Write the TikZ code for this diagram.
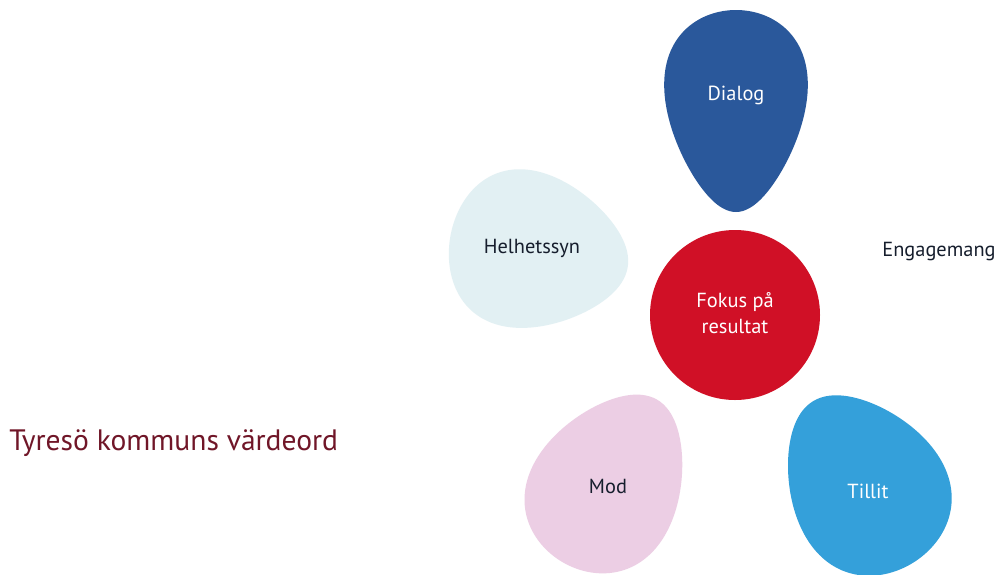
\documentclass[tikz,border=0pt]{standalone}
\usepackage{fontspec}
\setmainfont{PT Sans}
\definecolor{dialogblue}{RGB}{42,88,155}
\definecolor{helhetcyan}{RGB}{226,240,243}
\definecolor{fokusred}{RGB}{208,16,38}
\definecolor{modpink}{RGB}{236,206,228}
\definecolor{tillitblue}{RGB}{52,160,218}
\definecolor{titlered}{RGB}{112,22,40}
\definecolor{darktext}{RGB}{22,30,45}
% petal: colour, x, y, angle of tip, half length, half width, taper
\newcommand{\petal}[7]{%
  \fill[#1, shift={(#2,#3)}, rotate=#4]
    plot[domain=0:356, samples=90, smooth cycle]
    ({#5*cos(\x)}, {#6*sin(\x)*(1-#7*cos(\x))});}
\begin{document}
\begin{tikzpicture}[x=0.025cm, y=-0.025cm, line join=round, line cap=round,
  word/.style={font=\fontsize{14.5}{19}\selectfont, align=center, inner sep=0pt}]
\useasboundingbox (0,0) rectangle (1005,574);
\fill[white] (0,0) rectangle (1005,574);

% Kronblad
\petal{dialogblue}{736}{111}{-90}{101}{69}{0.3}
\petal{helhetcyan}{539}{252}{-10}{90}{77}{0.25}
\petal{modpink}{610}{481}{60}{94}{73}{0.22}
\petal{tillitblue}{863}{482}{122}{95}{76}{0.22}

% Mitten
\fill[fokusred] (735,315) circle (85);

% Texter
\node[word, text=white] (dialog) at (736,95) {Dialog};
\node[word, text=darktext] (helhet) at (532,248) {Helhetssyn};
\node[word, text=white] (fokus) at (735,313) {Fokus på\\resultat};
\node[word, text=darktext] (engage) at (939,252) {Engagemang};
\node[word, text=darktext] (mod) at (608,486) {Mod};
\node[word, text=white] (tillit) at (868,491) {Tillit};
\node[anchor=west, text=titlered, inner sep=0pt,
  font=\fontsize{21}{24}\selectfont] (title) at (9,443) {Tyresö kommuns värdeord};
\end{tikzpicture}
\end{document}
